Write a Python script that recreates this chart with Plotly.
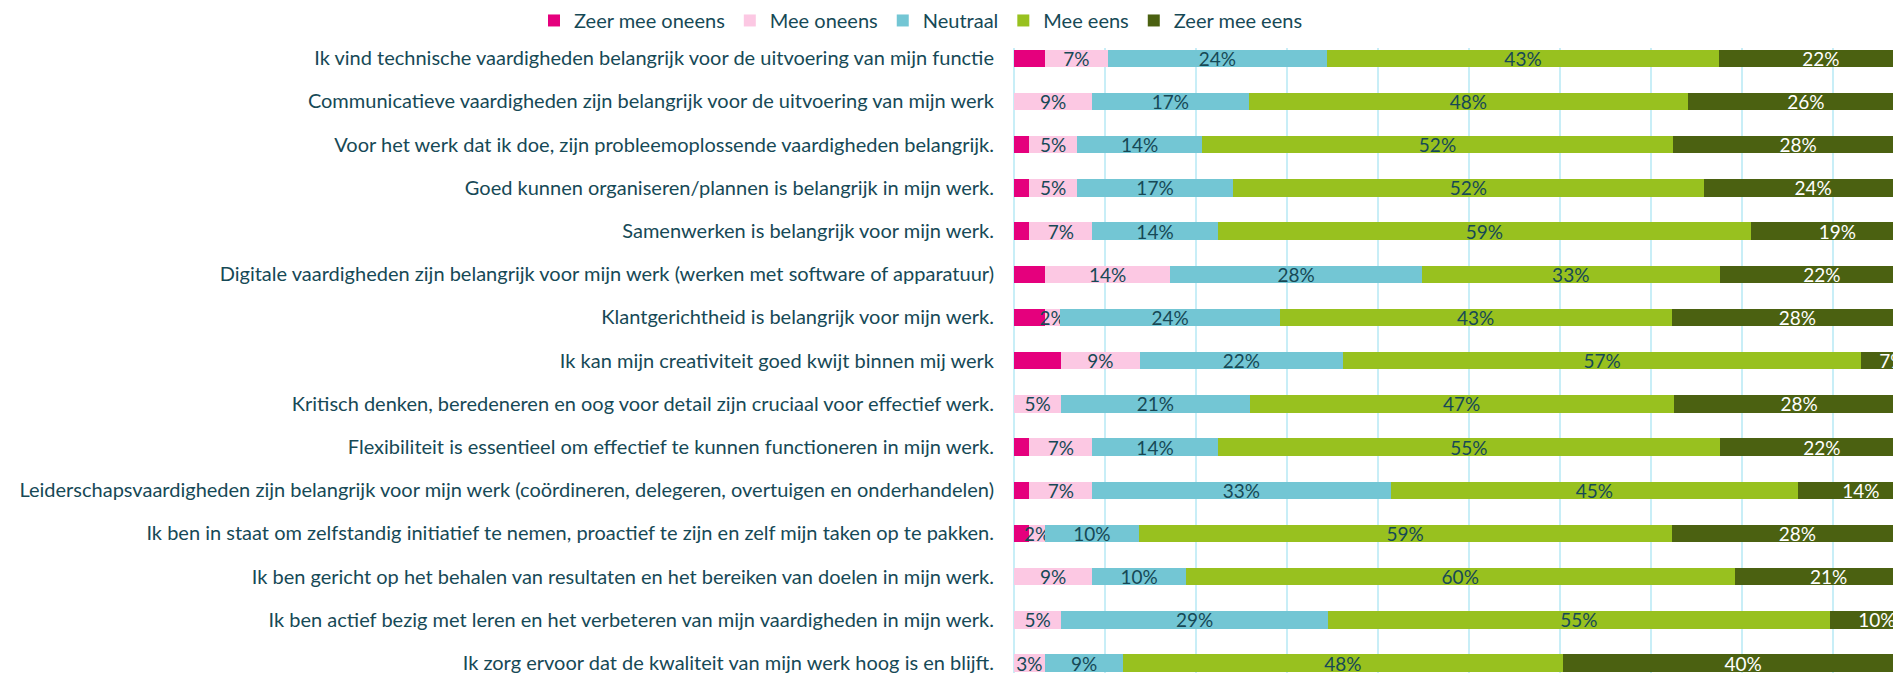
import plotly.graph_objects as go

statements = [
    "Ik vind technische vaardigheden belangrijk voor de uitvoering van mijn functie",
    "Communicatieve vaardigheden zijn belangrijk voor de uitvoering van mijn werk",
    "Voor het werk dat ik doe, zijn probleemoplossende vaardigheden belangrijk.",
    "Goed kunnen organiseren/plannen is belangrijk in mijn werk.",
    "Samenwerken is belangrijk voor mijn werk.",
    "Digitale vaardigheden zijn belangrijk voor mijn werk (werken met software of apparatuur)",
    "Klantgerichtheid is belangrijk voor mijn werk.",
    "Ik kan mijn creativiteit goed kwijt binnen mij werk",
    "Kritisch denken, beredeneren en oog voor detail zijn cruciaal voor effectief werk.",
    "Flexibiliteit is essentieel om effectief te kunnen functioneren in mijn werk.",
    "Leiderschapsvaardigheden zijn belangrijk voor mijn werk (coördineren, delegeren, overtuigen en onderhandelen)",
    "Ik ben in staat om zelfstandig initiatief te nemen, proactief te zijn en zelf mijn taken op te pakken.",
    "Ik ben gericht op het behalen van resultaten en het bereiken van doelen in mijn werk.",
    "Ik ben actief bezig met leren en het verbeteren van mijn vaardigheden in mijn werk.",
    "Ik zorg ervoor dat de kwaliteit van mijn werk hoog is en blijft.",
]

zeer_mee_oneens = [3.4, 0.0, 1.7, 1.7, 1.7, 3.4, 3.4, 5.2, 0.0, 1.7, 1.7, 1.7, 0.0, 0.0, 0.0]
mee_oneens      = [6.9, 8.6, 5.2, 5.2, 6.9, 13.8, 1.7, 8.6, 5.2, 6.9, 6.9, 1.7, 8.6, 5.2, 3.4]
neutraal        = [24.1, 17.2, 13.8, 17.2, 13.8, 27.6, 24.1, 22.4, 20.7, 13.8, 32.8, 10.3, 10.3, 29.3, 8.6]
mee_eens        = [43.1, 48.3, 51.7, 51.7, 58.6, 32.8, 43.1, 56.9, 46.6, 55.2, 44.8, 58.6, 60.3, 55.2, 48.3]
zeer_mee_eens   = [22.4, 25.9, 27.6, 24.1, 19.0, 22.4, 27.6, 6.9, 27.6, 22.4, 13.8, 27.6, 20.7, 10.3, 39.7]

series = [
    ("Zeer mee oneens", zeer_mee_oneens, "#E5007D", None),
    ("Mee oneens", mee_oneens, "#FCC8E3", "#164956"),
    ("Neutraal", neutraal, "#73C6D4", "#164956"),
    ("Mee eens", mee_eens, "#98C11F", "#164956"),
    ("Zeer mee eens", zeer_mee_eens, "#4B6111", "#FFFFFF"),
]

TEXT = "#164956"
FONT = "Lato, 'Open Sans', sans-serif"

fig = go.Figure()
for name, vals, color, tcolor in series:
    kw = {}
    if tcolor is None:
        kw["textposition"] = "none"
    else:
        kw["texttemplate"] = "%{x:.0f}%"
        kw["textposition"] = "inside"
        kw["insidetextanchor"] = "middle"
        kw["textangle"] = 0
        kw["constraintext"] = "none"
        kw["textfont"] = dict(color=tcolor, size=19, family=FONT)
    fig.add_trace(go.Bar(
        y=statements, x=vals, name=name, orientation="h",
        marker=dict(color=color, line=dict(width=0)),
        hoverinfo="skip", cliponaxis=True, **kw,
    ))

fig.update_layout(
    width=1901, height=673,
    barmode="stack", bargap=0.6,
    plot_bgcolor="white", paper_bgcolor="white",
    margin=dict(l=1006, r=8, t=40, b=8),
    font=dict(family=FONT, color=TEXT, size=20),
    legend=dict(
        orientation="h", xref="container", yref="container",
        x=0.2767, xanchor="left", y=0.9525, yanchor="bottom",
        font=dict(size=20, color=TEXT, family=FONT),
        itemwidth=30, traceorder="normal",
    ),
    xaxis=dict(
        range=[0, 97.5], dtick=10, showticklabels=False,
        showgrid=True, gridcolor="#C8EEF7", gridwidth=1.5,
        zeroline=True, zerolinecolor="#C8EEF7", zerolinewidth=1.5,
        fixedrange=True,
    ),
    yaxis=dict(
        categoryorder="array", categoryarray=statements,
        range=[14.23, -0.238], showgrid=False, ticks="",
        ticklabelstandoff=19, automargin=False,
        tickfont=dict(size=20, color=TEXT, family=FONT),
    ),
)

fig.write_html("out.html")
